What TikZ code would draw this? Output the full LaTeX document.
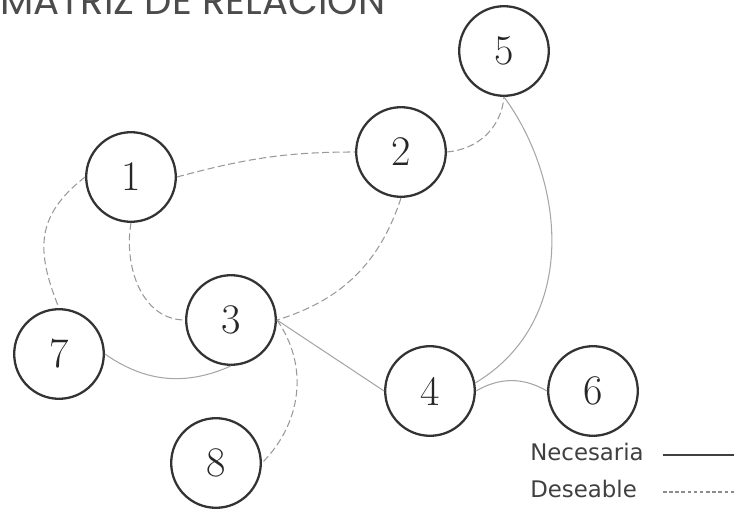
\documentclass[tikz,border=0pt]{standalone}
\usepackage{fontspec}
\usepackage{xcolor}
\usepackage{tikz}
\newfontfamily\titlefont{Poppins}
\newfontfamily\legendfont{DejaVu Sans}
\tikzset{
  rlnodo/.style={circle, draw=black!80, line width=1.3pt, minimum size=51pt, inner sep=0pt, text=black!85, font=\fontsize{24}{24}\selectfont},
  rlnec/.style={line width=0.6pt, draw=black!35},
  rldes/.style={line width=0.6pt, draw=black!40, dash pattern=on 4pt off 2pt},
  rlkey/.style={anchor=base west, inner sep=0pt, text=black!75, font=\legendfont\fontsize{13}{13}\selectfont},
  rlkeynec/.style={line width=0.9pt, draw=black!75},
  rlkeydes/.style={line width=0.6pt, draw=black!45, dash pattern=on 2pt off 1.5pt},
}

\begin{document}
\begin{tikzpicture}[x=0.02cm, y=-0.02cm]
\useasboundingbox (0,0) rectangle (734,510);
\node[anchor=base west, inner sep=0pt, text=black!70, font=\titlefont\fontsize{22}{22}\selectfont] (titulo) at (0,15) {MATRIZ DE RELACION};
\node[rlnodo] (n1) at (131,177) {1};
\node[rlnodo] (n2) at (401,152) {2};
\node[rlnodo] (n3) at (231,320) {3};
\node[rlnodo] (n4) at (430,391) {4};
\node[rlnodo] (n5) at (504,51) {5};
\node[rlnodo] (n6) at (593,391) {6};
\node[rlnodo] (n7) at (59,354) {7};
\node[rlnodo] (n8) at (216,463) {8};
\draw[rldes] (n1.east) to[out=15,in=180] (n2.west);
\draw[rldes] (n2.east) to[out=5,in=-95] (n5.south);
\draw[rlnec] (n5.south) .. controls (565,180) and (580,320) .. (n4.10);
\draw[rldes] (n2.south) to[out=-108,in=17] (n3.east);
\draw[rldes] (n1.south) to[out=-100,in=180] (n3.west);
\draw[rldes] (n1.west) to[out=218,in=112,looseness=1.2] (n7.north);
\draw[rlnec] (n7.east) to[out=-35,in=-156] (n3.south);
\draw[rlnec] (n3.east) -- (n4.west);
\draw[rldes] (n3.east) to[out=-55,in=45] (n8.east);
\draw[rlnec] (n4.east) to[out=30,in=150] (n6.west);
% leyenda
\node[rlkey] (lnec) at (530,460) {Necesaria};
\node[rlkey] (ldes) at (530,497) {Deseable};
\coordinate (nec0) at (663,455);
\coordinate (nec1) at (734,455);
\coordinate (des0) at (663,492);
\coordinate (des1) at (734,492);
\draw[rlkeynec] (nec0) -- (nec1);
\draw[rlkeydes] (des0) -- (des1);
\end{tikzpicture}
\end{document}
